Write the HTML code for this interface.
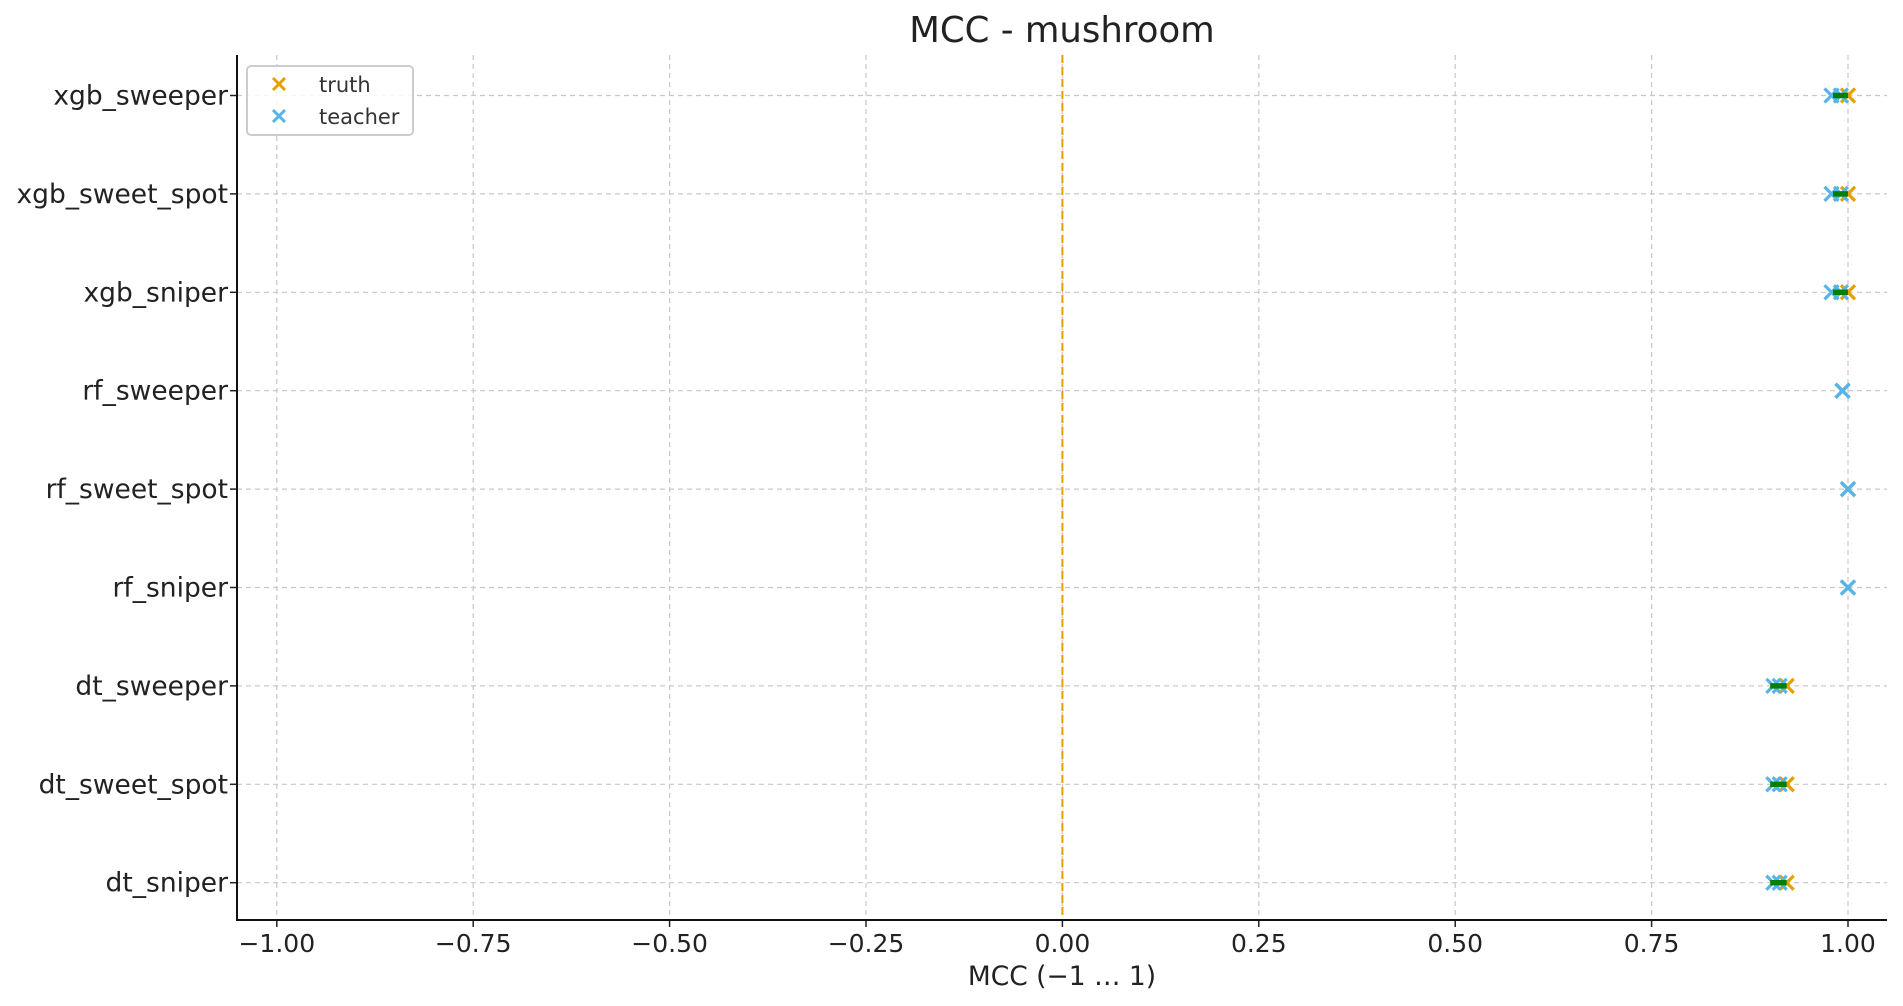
<!DOCTYPE html>
<html><head><meta charset="utf-8"><style>
html,body{margin:0;padding:0;background:#fff;}
svg{display:block;font-family:"DejaVu Sans","Liberation Sans",sans-serif;}
</style></head><body>
<svg id="chart" width="1903" height="1006" viewBox="0 0 1903 1006">
<text x="1062" y="42" font-size="35.5" text-anchor="middle" fill="#222">MCC - mushroom</text>
<g id="grid"></g>
<g id="marks"></g>
<g id="axes"></g>
<text x="1062" y="985" font-size="26.5" text-anchor="middle" fill="#222">MCC (−1 … 1)</text>
<g>
<rect x="247" y="66" width="166" height="69" rx="4" fill="#fff" fill-opacity="0.85" stroke="#ccc" stroke-width="2"/>
<g>
<path d="M273,78 L285,90 M285,78 L273,90" stroke="#E69F00" stroke-width="3"/>
<text x="319" y="92" font-size="21" fill="#333">truth</text></g>
<g>
<path d="M273,110 L285,122 M285,110 L273,122" stroke="#56B4E9" stroke-width="3"/>
<text x="319" y="124" font-size="21" fill="#333">teacher</text></g>
</g>
</svg>
<script>
const categories = ["xgb_sweeper","xgb_sweet_spot","xgb_sniper","rf_sweeper","rf_sweet_spot","rf_sniper","dt_sweeper","dt_sweet_spot","dt_sniper"];
const truthValues = [1.0,1.0,1.0,0.993,1.0,1.0,0.922,0.922,0.922];
const teacherA = [0.979,0.979,0.979,0.993,1.0,1.0,0.905,0.905,0.905];
const teacherB = [0.991,0.991,0.991,0.993,1.0,1.0,0.913,0.913,0.913];
const rangeLow = [0.981,0.981,0.981,null,null,null,0.901,0.901,0.901];
const rangeHigh = [1.0,1.0,1.0,null,null,null,0.922,0.922,0.922];
const xTicks = [-1,-0.75,-0.5,-0.25,0,0.25,0.5,0.75,1];
const xTickLabels = ["−1.00","−0.75","−0.50","−0.25","0.00","0.25","0.50","0.75","1.00"];

const NS="http://www.w3.org/2000/svg";
const L=237,R=1887,T=55,B=920;
const xs=v=>1062.4+785.6*v;
const ys=i=>95.5+i*98.4;
function mk(parent,tag,attrs){const e=document.createElementNS(NS,tag);for(const k in attrs)e.setAttribute(k,attrs[k]);document.getElementById(parent).appendChild(e);return e;}
xTicks.forEach((v,i)=>{
  const g=mk('grid','line',{x1:xs(v),x2:xs(v),y1:T,y2:B,stroke:'#c8c8c8','stroke-width':1.2,'stroke-dasharray':'5,4'});
  
  
  const t=mk('axes','line',{x1:xs(v),x2:xs(v),y1:B,y2:B+7,stroke:'#222','stroke-width':1.5});
  
  
  const l=mk('axes','text',{x:xs(v),y:B+32,'font-size':25,'text-anchor':'middle',fill:'#222'});
  l.textContent=xTickLabels[i];
  
  
});
categories.forEach((c,i)=>{
  const g=mk('grid','line',{x1:L,x2:R,y1:ys(i),y2:ys(i),stroke:'#c8c8c8','stroke-width':1.2,'stroke-dasharray':'5,4'});
  
  
  const t=mk('axes','line',{x1:L-7,x2:L,y1:ys(i),y2:ys(i),stroke:'#222','stroke-width':1.5});
  
  
  const l=mk('axes','text',{x:L-9,y:ys(i)+9,'font-size':26.5,'text-anchor':'end',fill:'#222'});
  l.textContent=c;
  
  
});
const zl=mk('grid','line',{x1:xs(0),x2:xs(0),y1:T,y2:B,stroke:'#E69F00','stroke-width':2,'stroke-dasharray':'8,4'});


function cross(v,i,color,name){
  const x=xs(v),y=ys(i),s=7;
  const p=mk('marks','path',{d:`M${x-s},${y-s}L${x+s},${y+s}M${x+s},${y-s}L${x-s},${y+s}`,stroke:color,'stroke-width':3.2});
  
  
}
categories.forEach((c,i)=>{
  cross(truthValues[i],i,'#E69F00','truth-marker');
  cross(teacherA[i],i,'#56B4E9','teacher-marker');
  cross(teacherB[i],i,'#56B4E9','teacher-marker');
  if(rangeLow[i]!==null){
    const r=mk('marks','rect',{x:xs(rangeLow[i]),y:ys(i)-2.7,width:xs(rangeHigh[i])-xs(rangeLow[i]),height:5.4,fill:'#008000'});
    
    
  }
});
const ax=mk('axes','path',{d:`M${L},${T}L${L},${B}L${R},${B}`,fill:'none',stroke:'#111','stroke-width':2});


</script>
</body></html>
